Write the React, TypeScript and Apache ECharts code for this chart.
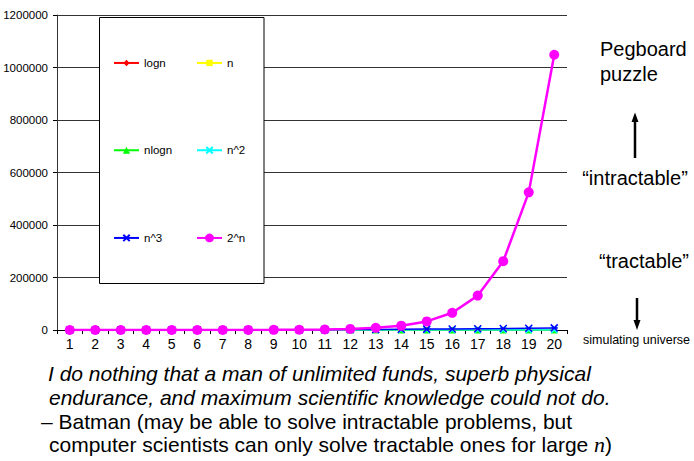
import React, { useEffect, useRef } from "react";
import * as echarts from "echarts";

const categories = ["1","2","3","4","5","6","7","8","9","10","11","12","13","14","15","16","17","18","19","20"];
const lognValues = [0, 1, 1.58, 2, 2.32, 2.58, 2.81, 3, 3.17, 3.32, 3.46, 3.58, 3.7, 3.81, 3.91, 4, 4.09, 4.17, 4.25, 4.32];
const nValues = [1, 2, 3, 4, 5, 6, 7, 8, 9, 10, 11, 12, 13, 14, 15, 16, 17, 18, 19, 20];
const nlognValues = [0, 2, 4.75, 8, 11.6, 15.5, 19.7, 24, 28.5, 33.2, 38.1, 43, 48.1, 53.3, 58.6, 64, 69.5, 75.1, 80.7, 86.4];
const n2Values = [1, 4, 9, 16, 25, 36, 49, 64, 81, 100, 121, 144, 169, 196, 225, 256, 289, 324, 361, 400];
const n3Values = [1, 8, 27, 64, 125, 216, 343, 512, 729, 1000, 1331, 1728, 2197, 2744, 3375, 4096, 4913, 5832, 6859, 8000];
const pow2Values = [2, 4, 8, 16, 32, 64, 128, 256, 512, 1024, 2048, 4096, 8192, 16384, 32768, 65536, 131072, 262144, 524288, 1048576];
const yTicks = { min: 0, max: 1200000, interval: 200000 };

const FONT = "'Liberation Sans', Arial, sans-serif";
const SERIF = "'Liberation Serif', 'Times New Roman', serif";
const crossPath = "path://M0,0L10,10M10,0L0,10";
const starPath = "path://M0,0L10,10M10,0L0,10M0,5L10,5";

export default function App() {
  const ref = useRef<HTMLDivElement>(null);
  useEffect(() => {
    if (!ref.current) return;
    const chart = echarts.init(ref.current, undefined, { renderer: "svg" });
    const mk = (name: string, data: number[], color: string, symbol: string, size: number, width: number, bw = 0) => ({
      name,
      type: "line",
      data,
      symbol,
      symbolSize: size,
      lineStyle: { color, width },
      itemStyle: { color, borderColor: color, borderWidth: bw },
    });
    const legendAt = (name: string, left: number, center: number, ih: number) => ({
      data: [name],
      left,
      top: center - 5.75,
      padding: 0,
      itemWidth: 25,
      itemHeight: ih,
      z: 60,
      textStyle: { fontFamily: FONT, fontSize: 11.5, color: "#000" },
    });
    const option: any = {
      animation: false,
      backgroundColor: "#fff",
      grid: { left: 57, right: 127, top: 15, bottom: 131, containLabel: false },
      xAxis: {
        type: "category",
        data: categories,
        boundaryGap: true,
        axisLine: { lineStyle: { color: "#000", width: 1 } },
        axisTick: { show: true, length: 4, lineStyle: { color: "#000" } },
        axisLabel: { fontFamily: FONT, fontSize: 14, color: "#000", margin: 7, interval: 0 },
        splitLine: { show: false },
      },
      yAxis: {
        type: "value",
        min: yTicks.min,
        max: yTicks.max,
        interval: yTicks.interval,
        axisLine: { show: true, lineStyle: { color: "#333", width: 1 } },
        axisTick: { show: true, length: 4, lineStyle: { color: "#000" } },
        axisLabel: { fontFamily: FONT, fontSize: 11.5, color: "#000", margin: 9, formatter: (v: number) => String(v) },
        splitLine: { show: true, lineStyle: { color: "#333", width: 1 } },
      },
      legend: [
        legendAt("logn", 113, 62.7, 8),
        legendAt("n", 196, 62.7, 8),
        legendAt("nlogn", 113, 150, 9),
        legendAt("n^2", 196, 150, 8),
        legendAt("n^3", 113, 237.7, 8),
        legendAt("2^n", 196, 237.7, 11),
      ],
      series: [
        mk("logn", lognValues, "#ff0000", "diamond", 6, 1.5),
        mk("n", nValues, "#ffff00", "rect", 6, 1.5),
        mk("nlogn", nlognValues, "#00ff00", "triangle", 7, 1.5),
        mk("n^2", n2Values, "#00ffff", crossPath, 6, 1.5, 1.5),
        mk("n^3", n3Values, "#0000ff", starPath, 7, 1.5, 1.5),
        mk("2^n", pow2Values, "#ff00ff", "circle", 10, 2.5),
      ],
      graphic: [
        {
          type: "rect",
          z: 50,
          shape: { x: 99.5, y: 17.5, width: 164.5, height: 266 },
          style: { fill: "#fff", stroke: "#000", lineWidth: 1 },
        },
        { type: "text", z: 50, x: 600, y: 49, style: { text: "Pegboard", font: `20px ${FONT}`, fill: "#000", textAlign: "left", textVerticalAlign: "middle" } },
        { type: "text", z: 50, x: 600, y: 74, style: { text: "puzzle", font: `20px ${FONT}`, fill: "#000", textAlign: "left", textVerticalAlign: "middle" } },
        { type: "line", z: 50, shape: { x1: 635, y1: 158, x2: 635, y2: 120 }, style: { stroke: "#000", lineWidth: 2.5 } },
        { type: "polygon", z: 50, shape: { points: [[631.5, 122], [638.5, 122], [635, 112.5]] }, style: { fill: "#000" } },
        { type: "text", z: 50, x: 635, y: 178, style: { text: "\u201cintractable\u201d", font: `20px ${FONT}`, fill: "#000", textAlign: "center", textVerticalAlign: "middle" } },
        { type: "text", z: 50, x: 644, y: 261, style: { text: "\u201ctractable\u201d", font: `20px ${FONT}`, fill: "#000", textAlign: "center", textVerticalAlign: "middle" } },
        { type: "line", z: 50, shape: { x1: 637, y1: 298, x2: 637, y2: 321 }, style: { stroke: "#000", lineWidth: 2.5 } },
        { type: "polygon", z: 50, shape: { points: [[633.5, 320], [640.5, 320], [637, 330]] }, style: { fill: "#000" } },
        { type: "text", z: 50, x: 583, y: 340, style: { text: "simulating universe", font: `12.5px ${FONT}`, fill: "#000", textAlign: "left", textVerticalAlign: "middle" } },
        { type: "text", z: 50, x: 48, y: 373.5, style: { text: "I do nothing that a man of unlimited funds, superb physical", font: `italic 21px ${FONT}`, fill: "#000", textAlign: "left", textVerticalAlign: "middle" } },
        { type: "text", z: 50, x: 49, y: 397, style: { text: "endurance, and maximum scientific knowledge could not do.", font: `italic 21px ${FONT}`, fill: "#000", textAlign: "left", textVerticalAlign: "middle" } },
        { type: "text", z: 50, x: 41, y: 421, style: { text: "\u2013 Batman (may be able to solve intractable problems, but", font: `21px ${FONT}`, fill: "#000", textAlign: "left", textVerticalAlign: "middle" } },
        {
          type: "text", z: 50, x: 49, y: 444.3,
          style: {
            text: "computer scientists can only solve tractable ones for large {n|n})",
            font: `21px ${FONT}`, fill: "#000", textAlign: "left", textVerticalAlign: "middle",
            rich: { n: { font: `italic 22px ${SERIF}`, fontFamily: SERIF, fontStyle: "italic", fontSize: 22, fill: "#000" } },
          },
        },
      ],
    };
    chart.setOption(option);
    return () => chart.dispose();
  }, []);
  return <div ref={ref} style={{ width: 694, height: 461, position: "absolute", left: 0, top: 0 }} />;
}
